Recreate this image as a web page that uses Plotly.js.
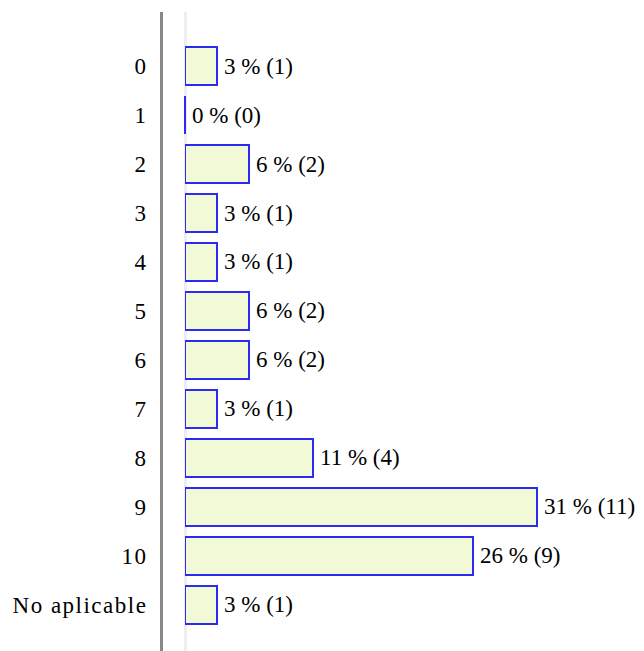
<!DOCTYPE html>
<html>
<head>
<meta charset="utf-8">
<script src="https://cdn.plot.ly/plotly-3.0.1.min.js"></script>
<style>
  html, body { margin: 0; padding: 0; background: #fff; }
  #chart { width: 644px; height: 651px; }
  .ytick text { letter-spacing: 1.5px; }
</style>
</head>
<body>
<div id="chart"></div>
<script>
const tickLabels = ["0", "1", "2", "3", "4", "5", "6", "7", "8", "9", "10", "No aplicable"];
const counts = [1, 0, 2, 1, 1, 2, 2, 1, 4, 11, 9, 1];
const percents = [3, 0, 6, 3, 3, 6, 6, 3, 11, 31, 26, 3];

const FONT = "Liberation Serif";
const labels = counts.map((c, i) => percents[i] + " % (" + c + ")");

const barTrace = {
  type: "bar",
  orientation: "h",
  x: counts,
  y: tickLabels,
  width: 0.776,
  marker: { color: "#f2f9d6", line: { color: "#2c2cf0", width: 2 } },
  hoverinfo: "none",
  showlegend: false
};

// zero-value bars still show their left edge in the reference
const zeroY = tickLabels.filter((t, i) => counts[i] === 0);
const zeroX = counts.filter(c => c === 0);
const zeroTrace = {
  type: "scatter",
  mode: "markers",
  x: zeroX,
  y: zeroY,
  marker: { symbol: "line-ns-open", size: 27, color: "#2c2cf0", line: { color: "#2c2cf0", width: 2 } },
  hoverinfo: "none",
  showlegend: false,
  cliponaxis: false
};

const annotations = counts.map((c, i) => ({
  x: c,
  y: tickLabels[i],
  xref: "x",
  yref: "y",
  text: labels[i],
  showarrow: false,
  xanchor: "left",
  yanchor: "middle",
  xshift: 5,
  font: { family: FONT, size: 23, color: "#000" }
}));

const layout = {
  width: 644,
  height: 651,
  margin: { l: 161, r: 11, t: 12, b: 0, pad: 0 },
  paper_bgcolor: "#fff",
  plot_bgcolor: "#fff",
  font: { family: FONT, size: 23, color: "#000" },
  xaxis: {
    domain: [24 / 472, 1],
    range: [0, 14],
    showgrid: false,
    showticklabels: false,
    ticks: "",
    showline: false,
    zeroline: true,
    zerolinecolor: "#eeeeee",
    zerolinewidth: 3,
    fixedrange: true
  },
  yaxis: {
    type: "category",
    categoryorder: "array",
    categoryarray: tickLabels,
    range: [11.939, -1.102],
    anchor: "free",
    position: 0,
    showline: true,
    linecolor: "#888888",
    linewidth: 3,
    showgrid: false,
    zeroline: false,
    ticks: "",
    ticklabelstandoff: 8,
    tickfont: { family: FONT, size: 23, color: "#000" },
    automargin: false,
    fixedrange: true
  },
  annotations: annotations
};

Plotly.newPlot("chart", [barTrace, zeroTrace], layout, { displayModeBar: false, staticPlot: true });
</script>
</body>
</html>
